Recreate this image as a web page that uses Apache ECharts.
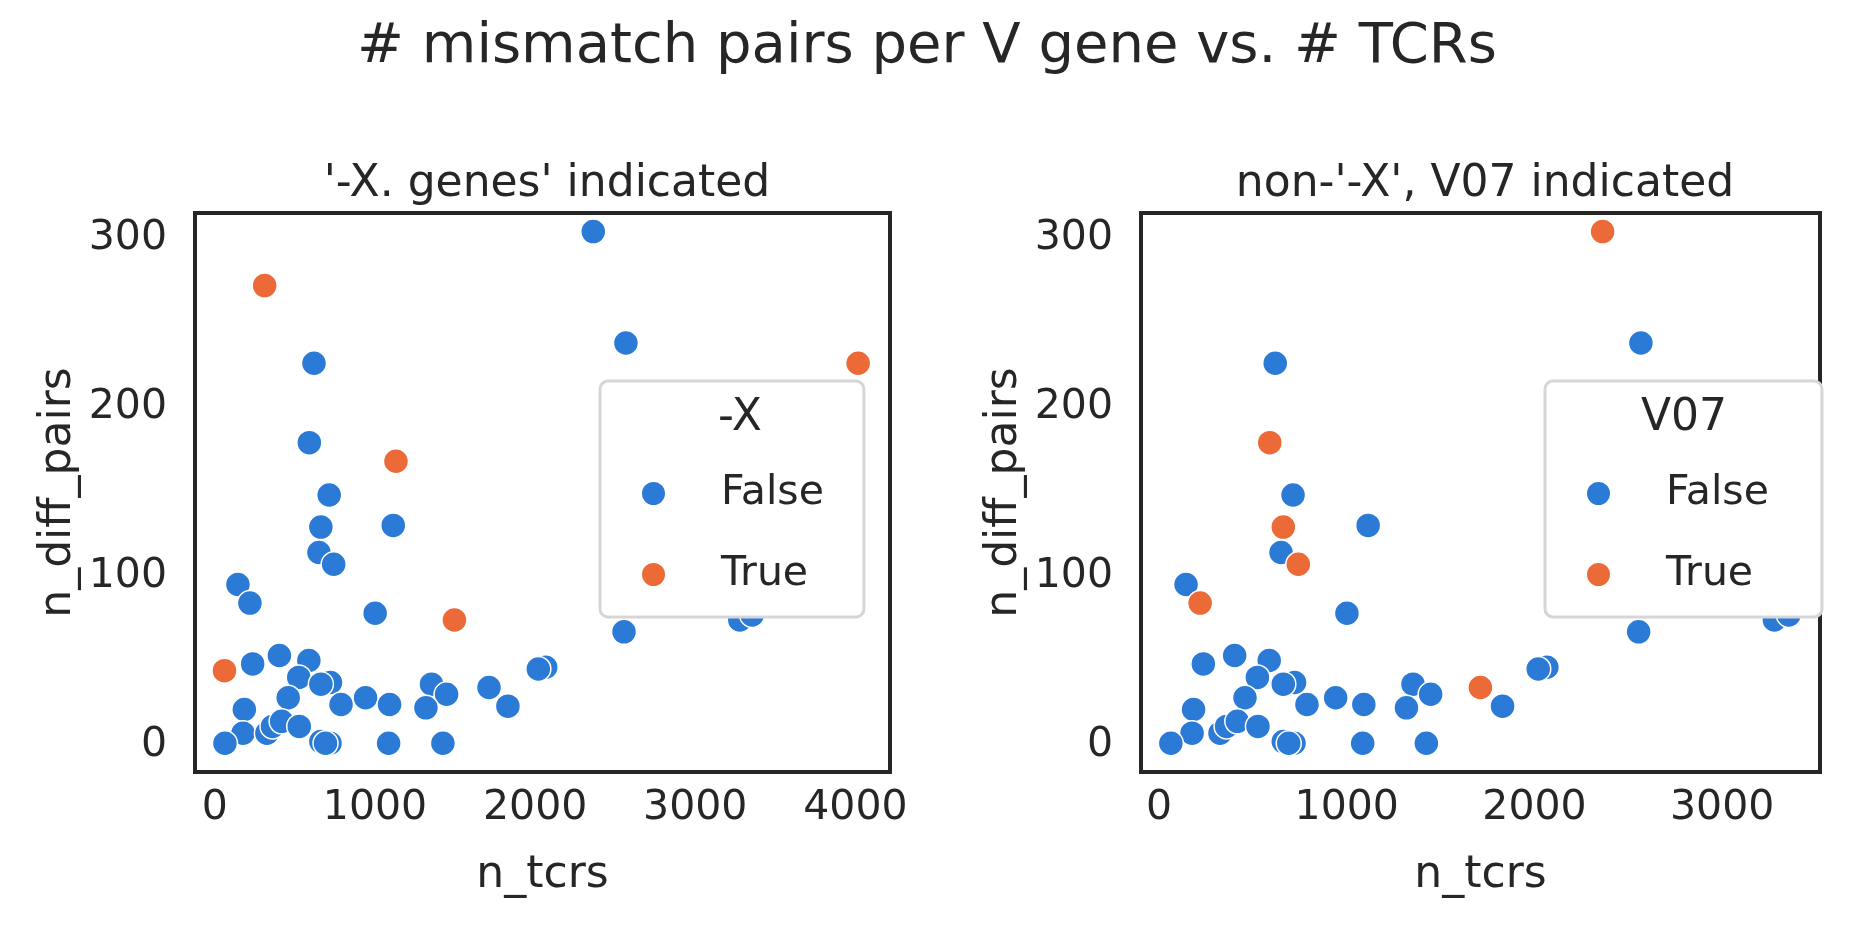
<!DOCTYPE html>
<html lang="en">
<head>
<meta charset="UTF-8">
<title># mismatch pairs per V gene vs. # TCRs</title>
<script src="https://cdn.jsdelivr.net/npm/echarts@6/dist/echarts.min.js"></script>
<style>
  html, body { margin: 0; background: #fff; }
  #chart { width: 1854px; height: 926px; }
</style>
</head>
<body>
<div id="chart"></div>
<script>
// one row per V gene: n_tcrs, n_diff_pairs, is '-X', is V07
const nTcrs = [311, 1131, 4017, 1496, 60,
  2363, 2567, 619, 590, 714, 662, 1114, 650, 742, 144, 219, 1001, 2555, 3278, 3355,
  2066, 2020, 236, 403, 587, 524, 722, 662, 1353, 1447, 1712, 1830, 458, 788, 941,
  1091, 1318, 184, 176, 325, 360, 417, 527, 63, 662, 719, 691, 1085, 1424];
const nDiffPairs = [272, 168, 226, 74, 44,
  304, 238, 226, 179, 148, 129, 130, 114, 107, 95, 84, 78, 67, 74, 77,
  46, 45, 48, 53, 50, 40, 37, 36, 36, 30, 34, 23, 28, 24, 28,
  24, 22, 21, 7, 7, 11, 14, 11, 1, 2, 1, 1, 1, 1];
const isX = [1, 1, 1, 1, 1,
  0, 0, 0, 0, 0, 0, 0, 0, 0, 0, 0, 0, 0, 0, 0,
  0, 0, 0, 0, 0, 0, 0, 0, 0, 0, 0, 0, 0, 0, 0,
  0, 0, 0, 0, 0, 0, 0, 0, 0, 0, 0, 0, 0, 0];
const isV07 = [0, 0, 0, 0, 0,
  1, 0, 0, 1, 0, 1, 0, 0, 1, 0, 1, 0, 0, 0, 0,
  0, 0, 0, 0, 0, 0, 0, 0, 0, 0, 1, 0, 0, 0, 0,
  0, 0, 0, 0, 0, 0, 0, 0, 0, 0, 0, 0, 0, 0];
const yTicks = [0, 100, 200, 300];
const xTicksLeft = [0, 1000, 2000, 3000, 4000];
const xTicksRight = [0, 1000, 2000, 3000];

const BLUE = '#2b7bd6', ORANGE = '#eb6a38', INK = '#262626';
const FONT = 'DejaVu Sans';

function pts(filter) {
  return nTcrs.map((x, i) => [x, nDiffPairs[i], i]).filter(p => filter(p[2])).map(p => [p[0], p[1]]);
}

function scatter(name, idx, data, color) {
  return {
    name, type: 'scatter', xAxisIndex: idx, yAxisIndex: idx, data,
    symbolSize: 25,
    itemStyle: { color, borderColor: '#fff', borderWidth: 1.5, opacity: 1 },
    emphasis: { disabled: true }
  };
}

function xAxis(idx, min, max, ticks) {
  return {
    type: 'value', gridIndex: idx, min, max,
    name: 'n_tcrs', nameLocation: 'middle', nameGap: 82,
    nameTextStyle: { fontFamily: FONT, fontSize: 44, color: INK },
    axisLine: { show: false }, axisTick: { show: false }, splitLine: { show: false },
    axisLabel: { customValues: ticks, formatter: v => String(v), margin: 16,
      fontFamily: FONT, fontSize: 41, color: INK }
  };
}

function yAxis(idx) {
  return {
    type: 'value', gridIndex: idx, min: -16, max: 315,
    name: 'n_diff_pairs', nameLocation: 'middle', nameGap: 114,
    nameTextStyle: { fontFamily: FONT, fontSize: 44, color: INK },
    axisLine: { show: false }, axisTick: { show: false }, splitLine: { show: false },
    axisLabel: { customValues: yTicks, margin: 28, fontFamily: FONT, fontSize: 41, color: INK }
  };
}

function legend(left, seriesNames) {
  return {
    data: seriesNames, orient: 'vertical', left, top: 381,
    padding: [92, 40, 22, 40], itemGap: 40,
    itemWidth: 25, itemHeight: 25, icon: 'circle',
    backgroundColor: '#fff', borderColor: '#d6d6d6', borderWidth: 3, borderRadius: 8,
    textStyle: { fontFamily: FONT, fontSize: 41, color: INK, padding: [0, 0, 0, 50] }
  };
}

const chart = echarts.init(document.getElementById('chart'));
chart.setOption({
  animation: false,
  title: [
    { text: '# mismatch pairs per V gene vs. # TCRs', left: 'center', top: 14,
      textStyle: { fontFamily: FONT, fontSize: 56, fontWeight: 'normal', color: INK } },
    { text: "'-X. genes' indicated", left: 542, top: 158, textAlign: 'center',
      textStyle: { fontFamily: FONT, fontSize: 44, fontWeight: 'normal', color: INK } },
    { text: "non-'-X', V07 indicated", left: 1480, top: 158, textAlign: 'center',
      textStyle: { fontFamily: FONT, fontSize: 44, fontWeight: 'normal', color: INK } },
    { text: '-X', left: 735, top: 392, textAlign: 'center', z: 10,
      textStyle: { fontFamily: FONT, fontSize: 44, fontWeight: 'normal', color: INK } },
    { text: 'V07', left: 1679, top: 392, textAlign: 'center', z: 10,
      textStyle: { fontFamily: FONT, fontSize: 44, fontWeight: 'normal', color: INK } }
  ],
  grid: [
    { left: 195, top: 213, width: 695, height: 559, show: true, borderColor: INK, borderWidth: 4, backgroundColor: '#fff' },
    { left: 1141, top: 213, width: 679, height: 559, show: true, borderColor: INK, borderWidth: 4, backgroundColor: '#fff' }
  ],
  xAxis: [xAxis(0, -124, 4216, xTicksLeft), xAxis(1, -96, 3521, xTicksRight)],
  yAxis: [yAxis(0), yAxis(1)],
  legend: [
    legend(600, ['False', 'True']),
    legend(1545, ['False ', 'True '])
  ],
  series: [
    scatter('False', 0, pts(i => !isX[i]), BLUE),
    scatter('True', 0, pts(i => isX[i]), ORANGE),
    scatter('False ', 1, pts(i => !isX[i] && !isV07[i]), BLUE),
    scatter('True ', 1, pts(i => !isX[i] && isV07[i]), ORANGE)
  ]
});
</script>
</body>
</html>
